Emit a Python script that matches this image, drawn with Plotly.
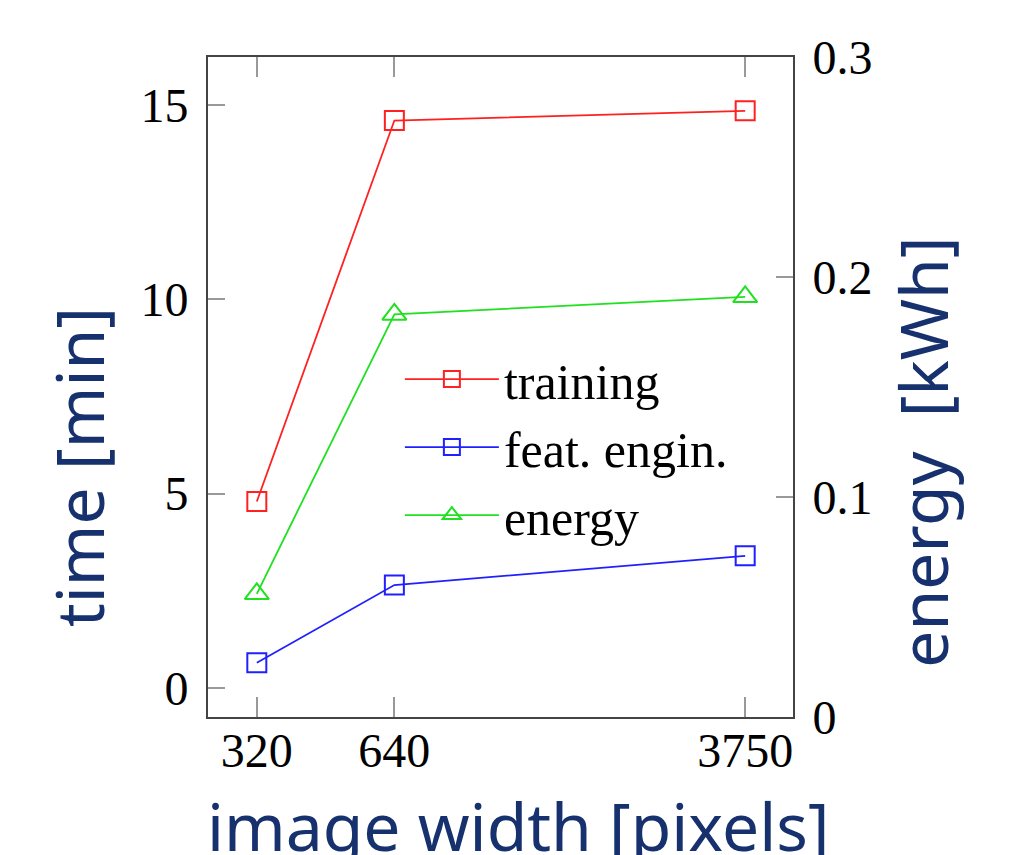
import plotly.graph_objects as go

widths = [320, 640, 3750]
training = [4.8, 14.6, 14.85]
feat_engin = [0.65, 2.65, 3.4]
energy = [0.056, 0.183, 0.191]

x_ticks = [320, 640, 3750]
y_ticks = [0, 5, 10, 15]
y2_ticks = [0, 0.1, 0.2, 0.3]
y2_labels = ["0", "0.1", "0.2", "0.3"]

serif = "Liberation Serif"
navy = "#16316e"

fig = go.Figure()
fig.add_trace(go.Scatter(x=widths, y=training, name="training", mode="lines+markers",
                         line=dict(color="#ff2020", width=1.8),
                         marker=dict(symbol="square-open", size=19, color="#ff2020", line=dict(width=2))))
fig.add_trace(go.Scatter(x=widths, y=feat_engin, name="feat. engin.", mode="lines+markers",
                         line=dict(color="#2020ff", width=1.8),
                         marker=dict(symbol="square-open", size=19, color="#2020ff", line=dict(width=2))))
fig.add_trace(go.Scatter(x=widths, y=energy, name="energy", mode="lines+markers", yaxis="y2",
                         line=dict(color="#20e020", width=1.8),
                         marker=dict(symbol="triangle-up-open", size=21, color="#20e020", line=dict(width=2))))

axis_common = dict(showgrid=False, zeroline=False, showline=True, linecolor="#444444", linewidth=2,
                   ticks="inside", tickcolor="#999999", tickwidth=2,
                   tickfont=dict(family=serif, size=48, color="black"))

fig.update_layout(
    width=1017, height=847,
    margin=dict(l=200, r=232, t=49, b=138),
    paper_bgcolor="white", plot_bgcolor="white",
    xaxis=dict(type="log", range=[2.3983, 3.6787], tickvals=x_ticks, ticktext=[str(v) for v in x_ticks],
               mirror="ticks", ticklen=20, ticklabelstandoff=-10, **axis_common),
    yaxis=dict(range=[-0.746, 16.235], tickvals=y_ticks, ticklen=17, ticklabelstandoff=8, **axis_common),
    yaxis2=dict(range=[0, 0.3], tickvals=y2_ticks, ticktext=y2_labels, overlaying="y", side="right",
                ticklen=17, ticklabelstandoff=8, **axis_common),
    legend=dict(x=0.328, y=0.409, xanchor="left", yanchor="middle", bgcolor="rgba(0,0,0,0)",
                font=dict(family=serif, size=50, color="black"), itemwidth=94),
    showlegend=True,
)

title_font = dict(family="Noto Sans", size=66, color=navy)
fig.add_annotation(text="time [min]", xref="paper", yref="paper", x=-0.222, y=0.379,
                   textangle=-90, showarrow=False, font=title_font, xanchor="center", yanchor="middle")
fig.add_annotation(text="energy  [kWh]", xref="paper", yref="paper", x=1.22, y=0.4015,
                   textangle=-90, showarrow=False, font=title_font, xanchor="center", yanchor="middle")
fig.add_annotation(text="image width [pixels]", xref="paper", yref="paper", x=0.53, y=-0.093,
                   showarrow=False, font=title_font, xanchor="center", yanchor="top")

fig.write_html("out.html")
